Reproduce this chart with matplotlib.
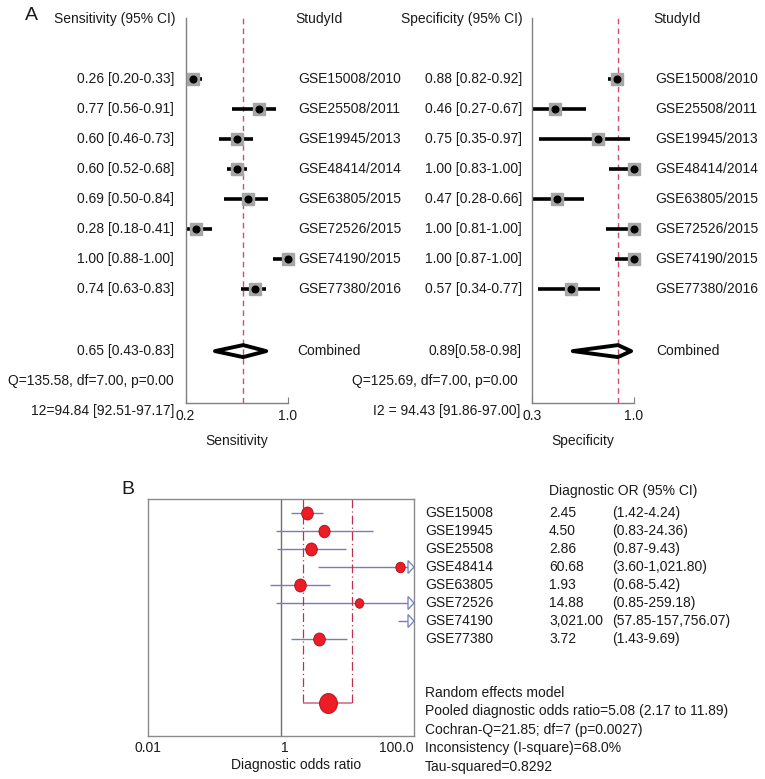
import matplotlib
matplotlib.use('Agg')
import matplotlib.pyplot as plt
import numpy as np
from matplotlib.transforms import Affine2D, blended_transform_factory as btf
from matplotlib.patches import Polygon
from matplotlib.path import Path
from matplotlib.ticker import NullLocator

# ---------------- data ----------------
studies_a = ['GSE15008/2010', 'GSE25508/2011', 'GSE19945/2013', 'GSE48414/2014',
             'GSE63805/2015', 'GSE72526/2015', 'GSE74190/2015', 'GSE77380/2016']
sens = [0.26, 0.77, 0.60, 0.60, 0.69, 0.28, 1.00, 0.74]
sens_lo = [0.20, 0.56, 0.46, 0.52, 0.50, 0.18, 0.88, 0.63]
sens_hi = [0.33, 0.91, 0.73, 0.68, 0.84, 0.41, 1.00, 0.83]
sens_pooled = [0.65, 0.43, 0.83]
sens_q = 'Q=135.58, df=7.00, p=0.00'
sens_i2 = '12=94.84 [92.51-97.17]'

spec = [0.88, 0.46, 0.75, 1.00, 0.47, 1.00, 1.00, 0.57]
spec_lo = [0.82, 0.27, 0.35, 0.83, 0.28, 0.81, 0.87, 0.34]
spec_hi = [0.92, 0.67, 0.97, 1.00, 0.66, 1.00, 1.00, 0.77]
spec_pooled = [0.89, 0.58, 0.98]
spec_q = 'Q=125.69, df=7.00, p=0.00'
spec_i2 = 'I2 = 94.43 [91.86-97.00]'

studies_b = ['GSE15008', 'GSE19945', 'GSE25508', 'GSE48414',
             'GSE63805', 'GSE72526', 'GSE74190', 'GSE77380']
dor = [2.45, 4.50, 2.86, 60.68, 1.93, 14.88, 3021.00, 3.72]
dor_lo = [1.42, 0.83, 0.87, 3.60, 0.68, 0.85, 57.85, 1.43]
dor_hi = [4.24, 24.36, 9.43, 1021.80, 5.42, 259.18, 157756.07, 9.69]
dor_pooled = [5.08, 2.17, 11.89]
footer_b = ['Random effects model',
            'Pooled diagnostic odds ratio=5.08 (2.17 to 11.89)',
            'Cochran-Q=21.85; df=7 (p=0.0027)',
            'Inconsistency (I-square)=68.0%',
            'Tau-squared=0.8292']
dor_ticks = [0.01, 1, 100]
dor_ticklabels = ['0.01', '1', '100.0']

# ---------------- styles ----------------
marker_h_px = [13, 12.5, 13, 10.5, 13, 9.5, 6, 13]   # red marker heights (style)
pooled_h_px = 20

plt.rcParams['font.family'] = ['Liberation Sans', 'DejaVu Sans']
plt.rcParams['font.size'] = 10
TXT = '#1a1a1a'
GRAY = '#808080'

W, H = 765, 779
fig = plt.figure(figsize=(W / 100, H / 100), dpi=100)
PX = Affine2D().scale(1 / W, -1 / H).translate(0, 1) + fig.transFigure


def add_ax(x0, y0, x1, y1):
    return fig.add_axes([x0 / W, 1 - y1 / H, (x1 - x0) / W, (y1 - y0) / H])


# ---------------- panel A ----------------
ROW0, STEP = 79, 30  # pixel layout of rows


def forest(ax, est, lo, hi, pooled, xmin, xmax, xlabel):
    ax.set_xlim(xmin, xmax)
    ax.set_ylim((403 - ROW0) / STEP, (18 - ROW0) / STEP)
    ax.patch.set_alpha(0)
    for s in ['top', 'right']:
        ax.spines[s].set_visible(False)
    for s in ['left', 'bottom']:
        ax.spines[s].set_color(GRAY)
        ax.spines[s].set_linewidth(1)
    ax.set_yticks([])
    ax.set_xticks([xmin, xmax])
    ax.set_xticklabels([f'{xmin:.1f}', f'{xmax:.1f}'])
    ax.tick_params(axis='x', direction='in', length=4, color=GRAY, pad=4,
                   labelsize=10, labelcolor=TXT)
    ax.set_xlabel(xlabel, labelpad=8, color=TXT, fontsize=10)
    rows = np.arange(len(est))
    ax.hlines(rows, lo, hi, color='k', lw=2.6, zorder=2)
    ax.plot(est, rows, 's', ms=9, color='#a6a6a6', clip_on=False, zorder=3)
    ax.plot(est, rows, 'o', ms=4.8, color='k', clip_on=False, zorder=4)
    ax.axvline(pooled[0], color='#cf4f6c', lw=1, ls=(0, (4, 3)), zorder=1)
    yc, h = 9.07, 0.2
    poly = Polygon([[pooled[1], yc], [pooled[0], yc - h], [pooled[2], yc], [pooled[0], yc + h]],
                   closed=True, fill=False, ec='k', lw=2.8, joinstyle='round', clip_on=False, zorder=3)
    ax.add_patch(poly)
    return btf(PX, ax.transData)


axL = add_ax(185.5, 18, 288, 403)
TL = forest(axL, sens, sens_lo, sens_hi, sens_pooled, 0.2, 1.0, 'Sensitivity')
axR = add_ax(532, 18, 634, 403)
TR = forest(axR, spec, spec_lo, spec_hi, spec_pooled, 0.3, 1.0, 'Specificity')

hdr_row = (19 - ROW0) / STEP
axL.text(176, hdr_row, 'Sensitivity (95% CI)', transform=TL, ha='right', va='center', color=TXT)
axL.text(295, hdr_row, 'StudyId', transform=TL, ha='left', va='center', color=TXT)
axR.text(523, hdr_row, 'Specificity (95% CI)', transform=TR, ha='right', va='center', color=TXT)
axR.text(653, hdr_row, 'StudyId', transform=TR, ha='left', va='center', color=TXT)

for i, name in enumerate(studies_a):
    axL.text(174, i, f'{sens[i]:.2f} [{sens_lo[i]:.2f}-{sens_hi[i]:.2f}]', transform=TL,
             ha='right', va='center', color=TXT)
    axL.text(298, i, name, transform=TL, ha='left', va='center', color=TXT)
    axR.text(522, i, f'{spec[i]:.2f} [{spec_lo[i]:.2f}-{spec_hi[i]:.2f}]', transform=TR,
             ha='right', va='center', color=TXT)
    axR.text(655, i, name, transform=TR, ha='left', va='center', color=TXT)

axL.text(174, 9.07, f'{sens_pooled[0]:.2f} [{sens_pooled[1]:.2f}-{sens_pooled[2]:.2f}]',
         transform=TL, ha='right', va='center', color=TXT)
axL.text(297, 9.07, 'Combined', transform=TL, ha='left', va='center', color=TXT)
axL.text(174, 10.07, sens_q, transform=TL, ha='right', va='center', color=TXT)
axL.text(174, 11.07, sens_i2, transform=TL, ha='right', va='center', color=TXT)

axR.text(522, 9.07, f'{spec_pooled[0]:.2f}[{spec_pooled[1]:.2f}-{spec_pooled[2]:.2f}]',
         transform=TR, ha='right', va='center', color=TXT)
axR.text(656, 9.07, 'Combined', transform=TR, ha='left', va='center', color=TXT)
axR.text(518, 10.07, spec_q, transform=TR, ha='right', va='center', color=TXT)
axR.text(520, 11.07, spec_i2, transform=TR, ha='right', va='center', color=TXT)

fig.text(25, 16, 'A', transform=PX, ha='left', va='center', fontsize=14, color=TXT)

# ---------------- panel B ----------------
B0, BSTEP = 513, 18
axB = add_ax(148, 499, 414, 736)
axB.set_xscale('log')
axB.set_xlim(dor_ticks[0], dor_ticks[-1])
axB.set_ylim((736 - B0) / BSTEP, (499 - B0) / BSTEP)
axB.set_xticks([])
axB.set_yticks([])
axB.xaxis.set_minor_locator(NullLocator())
for s in axB.spines.values():
    s.set_color('#8a8a8a')
    s.set_linewidth(1)
axB.axvline(1, color='#707070', lw=1, zorder=1)

ell = Path.unit_circle().transformed(Affine2D().scale(1, 1.12))
rows_b = np.arange(len(dor))
axB.hlines(rows_b, dor_lo, dor_hi, color='#7b7bb8', lw=1, zorder=2)
TAX = btf(axB.transAxes, axB.transData)
for i in range(len(dor)):
    axB.plot(dor[i], i, marker=ell, ms=marker_h_px[i] / 1.389, mfc='#ee1c24',
             mec='#a01018', mew=0.6, ls='none', zorder=4)
    if dor_hi[i] > dor_ticks[-1]:
        tri = Polygon([[1.0, i], [1 - 6 / 266, i - 0.36], [1 - 6 / 266, i + 0.36]], closed=True,
                      transform=TAX, fc='white', ec='#7080c0', lw=0.9, clip_on=False, zorder=3)
        axB.add_patch(tri)

yp = (703 - B0) / BSTEP
axB.vlines([dor_pooled[1], dor_pooled[2]], (499 - B0) / BSTEP, yp, color='#c0304a', lw=0.9,
           ls=(0, (7, 2.5, 1, 2.5)), zorder=2)
axB.hlines(yp, dor_pooled[1], dor_pooled[2], color='#d07090', lw=1.2, zorder=2)
axB.plot(dor_pooled[0], yp, marker=ell, ms=pooled_h_px / 1.389, mfc='#ee1c24',
         mec='#a01018', mew=0.6, ls='none', zorder=4)

TB = btf(PX, axB.transData)
axB.text(549, -1.22, 'Diagnostic OR (95% CI)', transform=TB, ha='left', va='center', color=TXT)
for i, name in enumerate(studies_b):
    axB.text(425, i, name, transform=TB, ha='left', va='center', color=TXT)
    axB.text(549, i, f'{dor[i]:,.2f}', transform=TB, ha='left', va='center', color=TXT)
    axB.text(612, i, f'({dor_lo[i]:,.2f}-{dor_hi[i]:,.2f})', transform=TB, ha='left',
             va='center', color=TXT)

for y, line in zip([693, 711, 730, 748, 767], footer_b):
    fig.text(425, y, line, transform=PX, ha='left', va='center', color=TXT)

TXB = btf(axB.transData, PX)
for t, lab, ha in zip(dor_ticks, dor_ticklabels, ['center', 'left', 'right']):
    axB.text(t, 748, lab, transform=TXB, ha=ha, va='center', color=TXT, clip_on=False)
fig.text(296, 765, 'Diagnostic odds ratio', transform=PX, ha='center', va='center', color=TXT)
fig.text(121, 490, 'B', transform=PX, ha='left', va='center', fontsize=14, color=TXT)

fig.savefig('out.png', dpi=100)
